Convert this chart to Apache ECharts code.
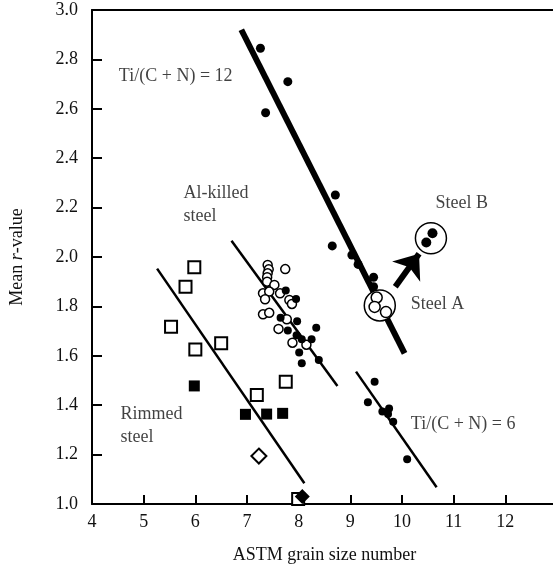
<!DOCTYPE html>
<html>
<head>
<meta charset="utf-8">
<script src="https://cdn.jsdelivr.net/npm/echarts@6/dist/echarts.min.js"></script>
<style>
html,body{margin:0;padding:0;background:#fff;overflow:hidden;}
#chart{width:560px;height:570px;}
</style>
</head>
<body>
<div id="chart"></div>
<script>
// ---- data ----
const ti12Line = [[6.89, 2.92], [10.05, 1.61]];
const alKilledLine = [[6.70, 2.066], [8.75, 1.478]];
const rimmedLine = [[5.26, 1.953], [8.11, 1.084]];
const ti6Line = [[9.11, 1.536], [10.67, 1.068]];

const ti12Points = [[7.26, 2.845], [7.79, 2.71], [7.36, 2.584], [8.71, 2.251], [8.65, 2.045],
  [9.03, 2.008], [9.15, 1.97], [9.45, 1.918], [9.45, 1.88]];
const ti6Points = [[9.47, 1.495], [9.34, 1.412], [9.62, 1.374], [9.75, 1.387], [9.73, 1.364],
  [9.83, 1.333], [10.10, 1.181]];

const alKilledOpen = [[7.40, 1.968], [7.42, 1.950], [7.40, 1.934], [7.39, 1.918], [7.39, 1.900],
  [7.74, 1.951], [7.53, 1.887], [7.31, 1.853], [7.43, 1.860], [7.35, 1.829], [7.64, 1.853],
  [7.82, 1.826], [7.87, 1.810], [7.31, 1.768], [7.43, 1.774], [7.77, 1.748], [7.61, 1.709],
  [7.88, 1.653], [8.15, 1.645]];
const alKilledFilled = [[7.75, 1.864], [7.95, 1.830], [7.65, 1.754], [7.97, 1.740], [8.34, 1.714],
  [7.79, 1.702], [7.96, 1.683], [8.06, 1.667], [8.25, 1.667], [8.01, 1.613], [8.06, 1.570],
  [8.39, 1.583]];

const rimmedOpen = [[5.98, 1.958], [5.81, 1.880], [5.53, 1.718], [6.00, 1.626], [6.50, 1.651],
  [7.19, 1.441], [7.75, 1.495], [7.99, 1.02]];
const rimmedFilled = [[5.98, 1.478], [6.97, 1.363], [7.38, 1.364], [7.69, 1.367]];
const openDiamond = [[7.23, 1.194]];
const filledDiamond = [[8.07, 1.030]];

const steelARing = [[9.57, 1.804]];
const steelAPoints = [[9.51, 1.836], [9.47, 1.798], [9.69, 1.777]];
const steelBRing = [[10.56, 2.076]];
const steelBPoints = [[10.59, 2.096], [10.47, 2.059]];
const arrowFromTo = [[9.87, 1.88], [10.33, 2.013]];

const annotations = [
  {text: 'Ti/(C + N) = 12', at: [4.52, 2.733]},
  {text: 'Al-killed\nsteel', at: [5.77, 2.213]},
  {text: 'Steel B', at: [10.65, 2.217]},
  {text: 'Steel A', at: [10.17, 1.808]},
  {text: 'Rimmed\nsteel', at: [4.55, 1.317]},
  {text: 'Ti/(C + N) = 6', at: [10.17, 1.323]}
];

const xMin = 4, xMax = 13, xInterval = 1;
const yMin = 1.0, yMax = 3.0, yInterval = 0.2;

// ---- chart ----
const FONT = "'Liberation Serif', 'Times New Roman', serif";
const chart = echarts.init(document.getElementById('chart'), null, {renderer: 'canvas'});

function lineSeries(data, width) {
  return {type: 'line', data: data, symbol: 'none', silent: true, animation: false,
    lineStyle: {color: '#000', width: width, cap: 'butt', opacity: 1}, z: 2};
}
function scatter(data, symbol, size, filled, bw, z) {
  return {type: 'scatter', data: data, symbol: symbol, symbolSize: size, animation: false, silent: true,
    itemStyle: {color: filled ? '#000' : '#fff', borderColor: '#000', borderWidth: bw, opacity: 1}, z: z || 3};
}

const option = {
  backgroundColor: '#fff',
  animation: false,
  grid: {left: 90.7, top: 10, right: 0, bottom: 66},
  xAxis: [{
    type: 'value', min: xMin, max: xMax, interval: xInterval,
    name: 'ASTM grain size number', nameLocation: 'middle', nameGap: 42,
    nameTextStyle: {fontFamily: FONT, fontSize: 18, color: '#111'},
    axisLine: {lineStyle: {color: '#000', width: 2}},
    axisTick: {inside: true, length: 9, lineStyle: {width: 2, color: '#000'}},
    axisLabel: {fontFamily: FONT, fontSize: 18, color: '#111', margin: 9,
      formatter: v => (v >= 13 ? '' : String(v))},
    splitLine: {show: false}
  }, {
    type: 'value', min: xMin, max: xMax, position: 'top',
    axisLine: {show: true, lineStyle: {color: '#000', width: 2}},
    axisTick: {show: false}, axisLabel: {show: false}, splitLine: {show: false}
  }],
  yAxis: {
    type: 'value', min: yMin, max: yMax, interval: yInterval,
    name: '{a|Mean }{i|r}{a|-value}', nameLocation: 'middle', nameGap: 66,
    nameTextStyle: {fontFamily: FONT, fontSize: 18, color: '#111',
      rich: {a: {fontFamily: FONT, fontSize: 18, color: '#111'},
             i: {fontFamily: FONT, fontSize: 18, color: '#111', fontStyle: 'italic'}}},
    axisLine: {lineStyle: {color: '#000', width: 2}},
    axisTick: {inside: true, length: 10, lineStyle: {width: 2, color: '#000'}},
    axisLabel: {fontFamily: FONT, fontSize: 18, color: '#111', margin: 14,
      formatter: v => v.toFixed(1)},
    splitLine: {show: false}
  },
  series: [
    lineSeries(ti12Line, 6),
    lineSeries(alKilledLine, 2.5),
    lineSeries(rimmedLine, 2.5),
    lineSeries(ti6Line, 2.5),
    scatter(ti12Points, 'circle', 9, true, 0),
    scatter(ti6Points, 'circle', 8, true, 0),
    scatter(alKilledOpen, 'circle', 9, false, 1.5, 4),
    scatter(alKilledFilled, 'circle', 8, true, 0, 5),
    scatter(rimmedOpen, 'rect', 12, false, 2),
    scatter(rimmedFilled, 'rect', 11, true, 0),
    scatter(openDiamond, 'diamond', 15, false, 2),
    scatter(filledDiamond, 'diamond', 15, true, 0, 4),
    scatter(steelARing, 'circle', 31, false, 1.5, 6),
    scatter(steelAPoints, 'circle', 11, false, 1.5, 7),
    scatter(steelBRing, 'circle', 31, false, 1.5, 6),
    scatter(steelBPoints, 'circle', 10, true, 0, 7),
    {
      type: 'line', data: [], silent: true, animation: false,
      markLine: {
        silent: true, animation: false,
        symbol: ['none', 'arrow'], symbolSize: [26, 22],
        label: {show: false},
        lineStyle: {color: '#000', width: 6, type: 'solid', opacity: 1},
        data: [[{coord: arrowFromTo[0]}, {coord: arrowFromTo[1]}]]
      }
    },
    {
      type: 'scatter', symbolSize: 0, silent: true, animation: false, z: 10,
      data: annotations.map(a => ({value: a.at, name: a.text})),
      label: {show: true, position: 'right', distance: 0, formatter: p => p.name,
        fontFamily: FONT, fontSize: 18, color: '#111', lineHeight: 23, align: 'left', verticalAlign: 'middle'}
    }
  ]
};
chart.setOption(option);
</script>
</body>
</html>
